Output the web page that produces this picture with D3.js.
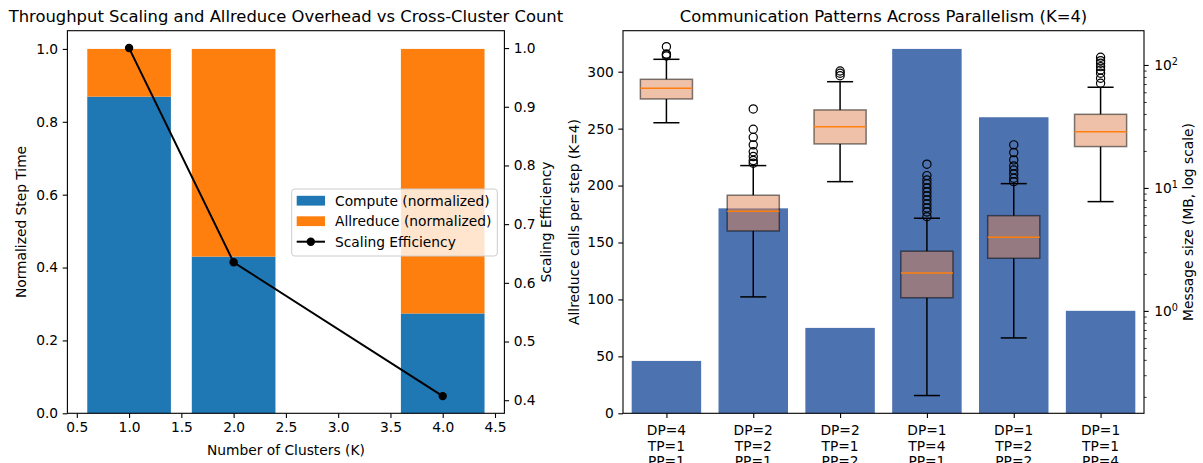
<!DOCTYPE html>
<html>
<head>
<meta charset="utf-8">
<script src="https://cdn.jsdelivr.net/npm/d3@7"></script>
<style>
  html, body { margin: 0; padding: 0; background: #fff; }
  svg { display: block; }
  text { font-family: "DejaVu Sans", sans-serif; }
</style>
</head>
<body>
<svg id="chart" width="1203" height="463"></svg>
<script>
// ---------------- Data ----------------
const clusters = [1, 2, 4];
const computeNorm = [0.869, 0.430, 0.274];
const allreduceNorm = [0.131, 0.570, 0.726];
const scalingEff = [1.0, 0.635, 0.407];
const leftXTicks = [0.5, 1.0, 1.5, 2.0, 2.5, 3.0, 3.5, 4.0, 4.5];
const leftYTicks = [0.0, 0.2, 0.4, 0.6, 0.8, 1.0];
const effTicks = [0.4, 0.5, 0.6, 0.7, 0.8, 0.9, 1.0];

const configs = [
  ["DP=4", "TP=1", "PP=1"],
  ["DP=2", "TP=2", "PP=1"],
  ["DP=2", "TP=1", "PP=2"],
  ["DP=1", "TP=4", "PP=1"],
  ["DP=1", "TP=2", "PP=2"],
  ["DP=1", "TP=1", "PP=4"]
];
const allreduceCalls = [46, 180, 75, 320, 260, 90];
const callTicks = [0, 50, 100, 150, 200, 250, 300];

// message size (MB) box statistics per configuration
const msgWhiskerLo = [33.9, 1.30, 11.25, 0.205, 0.603, 7.74];
const msgQ1        = [52.9, 4.47, 22.8, 1.28, 2.68, 21.7];
const msgMedian    = [64.7, 6.47, 31.5, 2.03, 3.97, 28.7];
const msgQ3        = [76.5, 8.73, 43.1, 3.06, 5.95, 39.7];
const msgWhiskerHi = [111.2, 15.2, 73.1, 5.67, 10.84, 65.9];
const msgOutliers  = [
  [140.9, 123.0, 121.0, 118.4],
  [43.9, 30.0, 25.8, 22.4, 19.7, 18.0, 16.7, 15.9],
  [89.4, 85.6, 81.8],
  [15.6, 12.6, 11.6, 10.8, 10.0, 9.28, 8.61, 7.99, 7.41, 6.88, 6.38, 5.84],
  [22.4, 19.4, 16.9, 15.1, 14.0, 13.0, 12.0, 11.25],
  [115.5, 108.4, 103.2, 96.9, 91.1, 85.6, 78.0, 71.0]
];
const logMajorTicks = [1, 10, 100];
const logMinorTicks = [0.2, 0.3, 0.4, 0.5, 0.6, 0.7, 0.8, 0.9, 2, 3, 4, 5, 6, 7, 8, 9, 20, 30, 40, 50, 60, 70, 80, 90];

// ---------------- Styling constants ----------------
const FS = 13.8, TFS = 16.4;
const TICK = 4.7, PAD = 4.6;
const svg = d3.select("#chart");

function styleAxis(g) {
  g.select(".domain").remove();
  g.selectAll(".tick line").attr("stroke", "#000").attr("stroke-width", 1.1);
  g.selectAll(".tick text").attr("font-family", "DejaVu Sans").attr("font-size", FS).attr("fill", "#000");
}

// ================= LEFT CHART =================
const L = { x0: 67.4, x1: 504.4, y0: 30.7, y1: 413.3 };
const xK = d3.scaleLinear().domain([0.41, 4.59]).range([L.x0, L.x1]);
const yL = d3.scaleLinear().domain([0, 1.05]).range([L.y1, L.y0]);
const yE = d3.scaleLinear().domain([0.3777, 1.0296]).range([L.y1, L.y0]);

const gL = svg.append("g");
// stacked bars
gL.selectAll("rect.comp").data(clusters).join("rect")
  .attr("x", (d) => xK(d - 0.4)).attr("width", (d) => xK(d + 0.4) - xK(d - 0.4))
  .attr("y", (d, i) => yL(computeNorm[i])).attr("height", (d, i) => yL(0) - yL(computeNorm[i]))
  .attr("fill", "#1f77b4");
gL.selectAll("rect.ar").data(clusters).join("rect")
  .attr("x", (d) => xK(d - 0.4)).attr("width", (d) => xK(d + 0.4) - xK(d - 0.4))
  .attr("y", (d, i) => yL(computeNorm[i] + allreduceNorm[i]))
  .attr("height", (d, i) => yL(computeNorm[i]) - yL(computeNorm[i] + allreduceNorm[i]))
  .attr("fill", "#ff7f0e");

// efficiency line
const line = d3.line().x((d) => xK(d[0])).y((d) => yE(d[1]));
const effPts = clusters.map((k, i) => [k, scalingEff[i]]);
gL.append("path").attr("d", line(effPts)).attr("fill", "none").attr("stroke", "#000").attr("stroke-width", 2);
gL.selectAll("circle.eff").data(effPts).join("circle")
  .attr("cx", (d) => xK(d[0])).attr("cy", (d) => yE(d[1])).attr("r", 4.2).attr("fill", "#000");

// axes
gL.append("g").attr("transform", `translate(0,${L.y1})`)
  .call(d3.axisBottom(xK).tickValues(leftXTicks).tickFormat(d3.format(".1f")).tickSize(TICK).tickSizeOuter(0).tickPadding(PAD))
  .call(styleAxis);
gL.append("g").attr("transform", `translate(${L.x0},0)`)
  .call(d3.axisLeft(yL).tickValues(leftYTicks).tickFormat(d3.format(".1f")).tickSize(TICK).tickSizeOuter(0).tickPadding(PAD))
  .call(styleAxis);
gL.append("g").attr("transform", `translate(${L.x1},0)`)
  .call(d3.axisRight(yE).tickValues(effTicks).tickFormat(d3.format(".1f")).tickSize(TICK).tickSizeOuter(0).tickPadding(PAD))
  .call(styleAxis);
gL.append("rect").attr("x", L.x0).attr("y", L.y0).attr("width", L.x1 - L.x0).attr("height", L.y1 - L.y0)
  .attr("fill", "none").attr("stroke", "#000").attr("stroke-width", 1.1);

// legend
const lg = gL.append("g");
lg.append("rect").attr("x", 291.7).attr("y", 189).attr("width", 205.6).attr("height", 67).attr("rx", 3)
  .attr("fill", "#fff").attr("fill-opacity", 0.8).attr("stroke", "#ccc").attr("stroke-width", 1);
const legendItems = [
  { label: "Compute (normalized)", type: "patch", color: "#1f77b4" },
  { label: "Allreduce (normalized)", type: "patch", color: "#ff7f0e" },
  { label: "Scaling Efficiency", type: "line", color: "#000" }
];
legendItems.forEach((it, i) => {
  const cy = 200.7 + i * 20.5;
  if (it.type === "patch") {
    lg.append("rect").attr("x", 296.7).attr("y", cy - 4.9).attr("width", 28.3).attr("height", 9.8).attr("fill", it.color);
  } else {
    lg.append("line").attr("x1", 296.7).attr("x2", 325).attr("y1", cy).attr("y2", cy).attr("stroke", "#000").attr("stroke-width", 2);
    lg.append("circle").attr("cx", 310.8).attr("cy", cy).attr("r", 4.2).attr("fill", "#000");
  }
  lg.append("text").attr("x", 335).attr("y", cy).attr("dy", "0.36em").attr("font-size", FS).attr("fill", "#000").text(it.label);
});

// titles / labels
svg.append("text").attr("x", (L.x0 + L.x1) / 2).attr("y", 21.8).attr("text-anchor", "middle").attr("font-size", TFS)
  .text("Throughput Scaling and Allreduce Overhead vs Cross-Cluster Count");
svg.append("text").attr("x", (L.x0 + L.x1) / 2).attr("y", 455).attr("text-anchor", "middle").attr("font-size", FS)
  .text("Number of Clusters (K)");
svg.append("text").attr("transform", `translate(21,${(L.y0 + L.y1) / 2}) rotate(-90)`).attr("dy", "0.36em")
  .attr("text-anchor", "middle").attr("font-size", FS).text("Normalized Step Time");
svg.append("text").attr("transform", `translate(546.5,${(L.y0 + L.y1) / 2}) rotate(-90)`).attr("dy", "0.36em")
  .attr("text-anchor", "middle").attr("font-size", FS).text("Scaling Efficiency");

// ================= RIGHT CHART =================
const R = { x0: 623, x1: 1144, y0: 30.7, y1: 413.3 };
const xC = d3.scaleLinear().domain([-0.5, 5.5]).range([R.x0, R.x1]);
const yC = d3.scaleLinear().domain([0, 336]).range([R.y1, R.y0]);
const yM = d3.scaleLog().domain([0.147, 190]).range([R.y1, R.y0]);
const idx = configs.map((c, i) => i);

const gR = svg.append("g");
gR.selectAll("rect.calls").data(allreduceCalls).join("rect")
  .attr("x", (d, i) => xC(i - 0.4)).attr("width", (d, i) => xC(i + 0.4) - xC(i - 0.4))
  .attr("y", (d) => yC(d)).attr("height", (d) => yC(0) - yC(d))
  .attr("fill", "#4c72b0");

// boxplots
idx.forEach((i) => {
  const cx = xC(i);
  const bx0 = xC(i - 0.3), bx1 = xC(i + 0.3);
  const cx0 = xC(i - 0.15), cx1 = xC(i + 0.15);
  const g = gR.append("g");
  g.append("line").attr("x1", cx).attr("x2", cx).attr("y1", yM(msgQ1[i])).attr("y2", yM(msgWhiskerLo[i]))
    .attr("stroke", "#000").attr("stroke-width", 1.5);
  g.append("line").attr("x1", cx).attr("x2", cx).attr("y1", yM(msgQ3[i])).attr("y2", yM(msgWhiskerHi[i]))
    .attr("stroke", "#000").attr("stroke-width", 1.5);
  [msgWhiskerLo[i], msgWhiskerHi[i]].forEach((v) => {
    g.append("line").attr("x1", cx0).attr("x2", cx1).attr("y1", yM(v)).attr("y2", yM(v))
      .attr("stroke", "#000").attr("stroke-width", 1.5);
  });
  g.append("rect").attr("x", bx0).attr("width", bx1 - bx0)
    .attr("y", yM(msgQ3[i])).attr("height", yM(msgQ1[i]) - yM(msgQ3[i]))
    .attr("fill", "#dd8452").attr("fill-opacity", 0.5)
    .attr("stroke", "#000").attr("stroke-opacity", 0.5).attr("stroke-width", 1.5);
  g.append("line").attr("x1", bx0).attr("x2", bx1).attr("y1", yM(msgMedian[i])).attr("y2", yM(msgMedian[i]))
    .attr("stroke", "#ff7f0e").attr("stroke-width", 1.5);
  g.selectAll("circle").data(msgOutliers[i]).join("circle")
    .attr("cx", cx).attr("cy", (d) => yM(d)).attr("r", 4.1)
    .attr("fill", "none").attr("stroke", "#000").attr("stroke-width", 1.2);
});

// axes
gR.append("g").attr("transform", `translate(0,${R.y1})`)
  .call(d3.axisBottom(xC).tickValues(idx).tickFormat("").tickSize(TICK).tickSizeOuter(0))
  .call(styleAxis);
idx.forEach((i) => {
  const t = gR.append("text").attr("x", xC(i)).attr("text-anchor", "middle").attr("font-size", FS).attr("fill", "#000");
  configs[i].forEach((ln, j) => {
    t.append("tspan").attr("x", xC(i)).attr("y", 435 + j * 15.5).text(ln);
  });
});
gR.append("g").attr("transform", `translate(${R.x0},0)`)
  .call(d3.axisLeft(yC).tickValues(callTicks).tickFormat(d3.format("d")).tickSize(TICK).tickSizeOuter(0).tickPadding(PAD))
  .call(styleAxis);
gR.append("g").attr("transform", `translate(${R.x1},0)`)
  .call(d3.axisRight(yM).tickValues(logMajorTicks).tickFormat("").tickSize(TICK).tickSizeOuter(0))
  .call(styleAxis);
gR.append("g").attr("transform", `translate(${R.x1},0)`)
  .call(d3.axisRight(yM).tickValues(logMinorTicks).tickFormat("").tickSize(2.7).tickSizeOuter(0))
  .call((g) => { g.select(".domain").remove(); g.selectAll(".tick line").attr("stroke", "#000").attr("stroke-width", 0.8); });
logMajorTicks.forEach((v) => {
  const t = gR.append("text").attr("x", R.x1 + TICK + PAD + 1).attr("y", yM(v)).attr("dy", "0.36em")
    .attr("font-size", FS).attr("fill", "#000");
  t.append("tspan").text("10");
  t.append("tspan").attr("dy", "-0.55em").attr("font-size", FS * 0.7).text(String(Math.round(Math.log10(v))));
});
gR.append("rect").attr("x", R.x0).attr("y", R.y0).attr("width", R.x1 - R.x0).attr("height", R.y1 - R.y0)
  .attr("fill", "none").attr("stroke", "#000").attr("stroke-width", 1.1);

svg.append("text").attr("x", (R.x0 + R.x1) / 2).attr("y", 21.8).attr("text-anchor", "middle").attr("font-size", TFS)
  .text("Communication Patterns Across Parallelism (K=4)");
svg.append("text").attr("transform", `translate(574.4,${(R.y0 + R.y1) / 2}) rotate(-90)`).attr("dy", "0.36em")
  .attr("text-anchor", "middle").attr("font-size", FS).text("Allreduce calls per step (K=4)");
svg.append("text").attr("transform", `translate(1187.6,${(R.y0 + R.y1) / 2}) rotate(-90)`).attr("dy", "0.36em")
  .attr("text-anchor", "middle").attr("font-size", FS).text("Message size (MB, log scale)");
</script>
</body>
</html>
